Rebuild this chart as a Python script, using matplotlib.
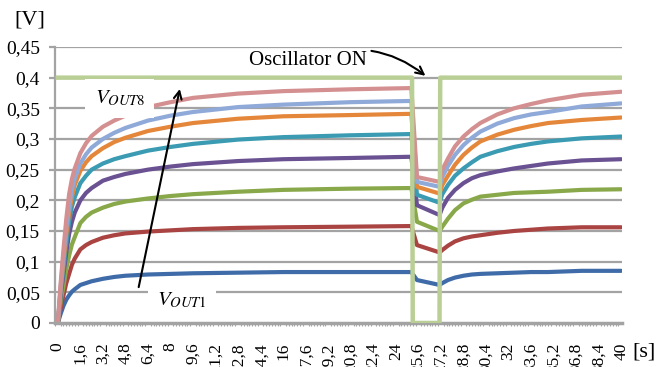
# Curvas VOUT1..VOUT8 con el oscilador apagado/encendido
import numpy as np
import matplotlib.pyplot as plt
from matplotlib.ticker import FixedLocator, MultipleLocator

plt.rcParams['font.family'] = ['Liberation Serif', 'DejaVu Serif']
plt.rcParams['mathtext.fontset'] = 'stix'

# tiempos de muestreo [s]
t = [0, 0.2, 0.4, 0.6, 0.8, 1.0, 1.2, 1.6, 2.0, 2.4, 3.2, 4.0, 4.8,
     6.4, 8, 9.6, 12.8, 16, 20.8, 25.1,
     25.5,
     27.1, 27.3, 27.7, 28.2, 28.8, 29.4, 30.0, 31.2, 32.4, 33.6, 34.8, 37.2, 40]

# tensiones [V]
vout1 = [0, 0.015, 0.028, 0.038, 0.045, 0.051, 0.055, 0.062, 0.065, 0.068, 0.072, 0.075, 0.077,
         0.079, 0.080, 0.081, 0.082, 0.083, 0.083, 0.083,
         0.070,
         0.062, 0.065, 0.070, 0.074, 0.077, 0.079, 0.080, 0.081, 0.082, 0.083, 0.083, 0.085, 0.085]
vout2 = [0, 0.025, 0.045, 0.065, 0.080, 0.095, 0.105, 0.120, 0.127, 0.132, 0.139, 0.143, 0.146,
         0.149, 0.151, 0.153, 0.155, 0.156, 0.157, 0.158,
         0.127,
         0.115, 0.119, 0.126, 0.133, 0.138, 0.141, 0.143, 0.147, 0.150, 0.152, 0.154, 0.156, 0.156]
vout3 = [0, 0.035, 0.060, 0.088, 0.110, 0.128, 0.140, 0.163, 0.173, 0.180, 0.188, 0.194, 0.198,
         0.203, 0.207, 0.210, 0.214, 0.217, 0.219, 0.220,
         0.165,
         0.150, 0.157, 0.170, 0.184, 0.195, 0.201, 0.206, 0.209, 0.212, 0.213, 0.214, 0.217, 0.218]
vout4 = [0, 0.045, 0.080, 0.115, 0.145, 0.165, 0.180, 0.200, 0.212, 0.220, 0.232, 0.238, 0.243,
         0.250, 0.255, 0.259, 0.264, 0.267, 0.269, 0.271,
         0.192,
         0.176, 0.188, 0.204, 0.217, 0.228, 0.236, 0.241, 0.247, 0.252, 0.256, 0.260, 0.265, 0.267]
vout5 = [0, 0.050, 0.090, 0.130, 0.165, 0.190, 0.205, 0.228, 0.240, 0.250, 0.260, 0.267, 0.272,
         0.281, 0.287, 0.292, 0.299, 0.303, 0.306, 0.308,
         0.209,
         0.196, 0.210, 0.225, 0.240, 0.252, 0.262, 0.271, 0.280, 0.287, 0.292, 0.296, 0.301, 0.304]
vout6 = [0, 0.055, 0.100, 0.145, 0.180, 0.205, 0.225, 0.248, 0.262, 0.272, 0.285, 0.295, 0.302,
         0.313, 0.320, 0.326, 0.333, 0.337, 0.339, 0.341,
         0.222,
         0.211, 0.225, 0.240, 0.258, 0.274, 0.286, 0.296, 0.307, 0.315, 0.321, 0.326, 0.331, 0.335]
vout7 = [0, 0.060, 0.110, 0.155, 0.190, 0.217, 0.235, 0.260, 0.275, 0.286, 0.300, 0.310, 0.318,
         0.330, 0.338, 0.344, 0.352, 0.356, 0.360, 0.362,
         0.230,
         0.222, 0.238, 0.256, 0.274, 0.290, 0.302, 0.312, 0.325, 0.334, 0.340, 0.344, 0.353, 0.358]
vout8 = [0, 0.065, 0.120, 0.170, 0.210, 0.235, 0.252, 0.277, 0.293, 0.305, 0.320, 0.330, 0.338,
         0.352, 0.360, 0.367, 0.374, 0.378, 0.381, 0.383,
         0.238,
         0.230, 0.250, 0.268, 0.288, 0.304, 0.316, 0.326, 0.340, 0.350, 0.357, 0.363, 0.372, 0.377]

# senal del oscilador
t_osc = [0, 25.15, 25.2, 27.1, 27.15, 40]
v_osc = [0.4, 0.4, 0, 0, 0.4, 0.4]

series = [vout1, vout2, vout3, vout4, vout5, vout6, vout7, vout8]
colores = ['#3f6ca8', '#a94442', '#88a84a', '#6a5192', '#3a9bb2', '#e5873a', '#8fa9d8', '#d49090']

xticks = [round(1.6 * i, 1) for i in range(26)]
xlabels = [('%g' % v).replace('.', ',') for v in xticks]
yticks = [0, 0.05, 0.1, 0.15, 0.2, 0.25, 0.3, 0.35, 0.4, 0.45]
ylabels = ['0', '0,05', '0,1', '0,15', '0,2', '0,25', '0,3', '0,35', '0,4', '0,45']

fig = plt.figure(figsize=(6.63, 3.67), dpi=100)
ax = fig.add_axes([0.083, 0.12, 0.855, 0.752])

gris = '#a3a3a3'
for y in yticks[1:]:
    ax.axhline(y, color=gris, lw=1.6, zorder=0)

for v, c in zip(series, colores):
    ax.plot(t, v, color=c, lw=3, solid_capstyle='round', solid_joinstyle='round', zorder=2)
ax.plot(t_osc, v_osc, color='#b9cf95', lw=3.2, zorder=3)

ax.set_xlim(-0.2, 40.05)
ax.set_ylim(0, 0.45)
ax.xaxis.set_major_locator(FixedLocator(xticks))
ax.set_xticklabels(xlabels, rotation=90, fontsize=12.5)
ax.xaxis.set_minor_locator(MultipleLocator(0.2))
ax.tick_params(axis='x', which='major', length=0, pad=14)
ax.tick_params(axis='x', which='minor', length=2.5, color=gris, width=0.8)
ax.set_yticks(yticks)
ax.set_yticklabels(ylabels, fontsize=14)
ax.tick_params(axis='y', length=4, color=gris, width=1.6, pad=7)

for s in ['top', 'right']:
    ax.spines[s].set_visible(False)
ax.spines['bottom'].set_color(gris)
ax.spines['bottom'].set_linewidth(2.5)
ax.spines['left'].set_color(gris)
ax.spines['left'].set_linewidth(1.6)

# etiquetas y flechas
ax.text(4.4, 0.366, r'$V_{OUT8}$', fontsize=15, ha='center', va='center', zorder=5,
        bbox=dict(boxstyle='square,pad=0.45', fc='white', ec='none'))
ax.text(8.8, 0.036, r'$V_{OUT1}$', fontsize=15, ha='center', va='center', zorder=5,
        bbox=dict(boxstyle='square,pad=0.45', fc='white', ec='none'))
ax.annotate('', xy=(8.7, 0.386), xytext=(5.7, 0.054), zorder=6,
            arrowprops=dict(arrowstyle='->', color='black', lw=1.5, mutation_scale=14))
ax.annotate('Oscillator ON', xy=(26.1, 0.403), xytext=(13.6, 0.428), fontsize=15,
            ha='left', va='center', zorder=6,
            arrowprops=dict(arrowstyle='->', color='black', lw=1.5, mutation_scale=14,
                            connectionstyle='arc3,rad=-0.3', shrinkA=1, shrinkB=0))

fig.text(0.045, 0.945, '[V]', fontsize=16, ha='center', va='center')
fig.text(0.972, 0.04, '[s]', fontsize=16, ha='center', va='center')

fig.savefig('out.png', dpi=100)
